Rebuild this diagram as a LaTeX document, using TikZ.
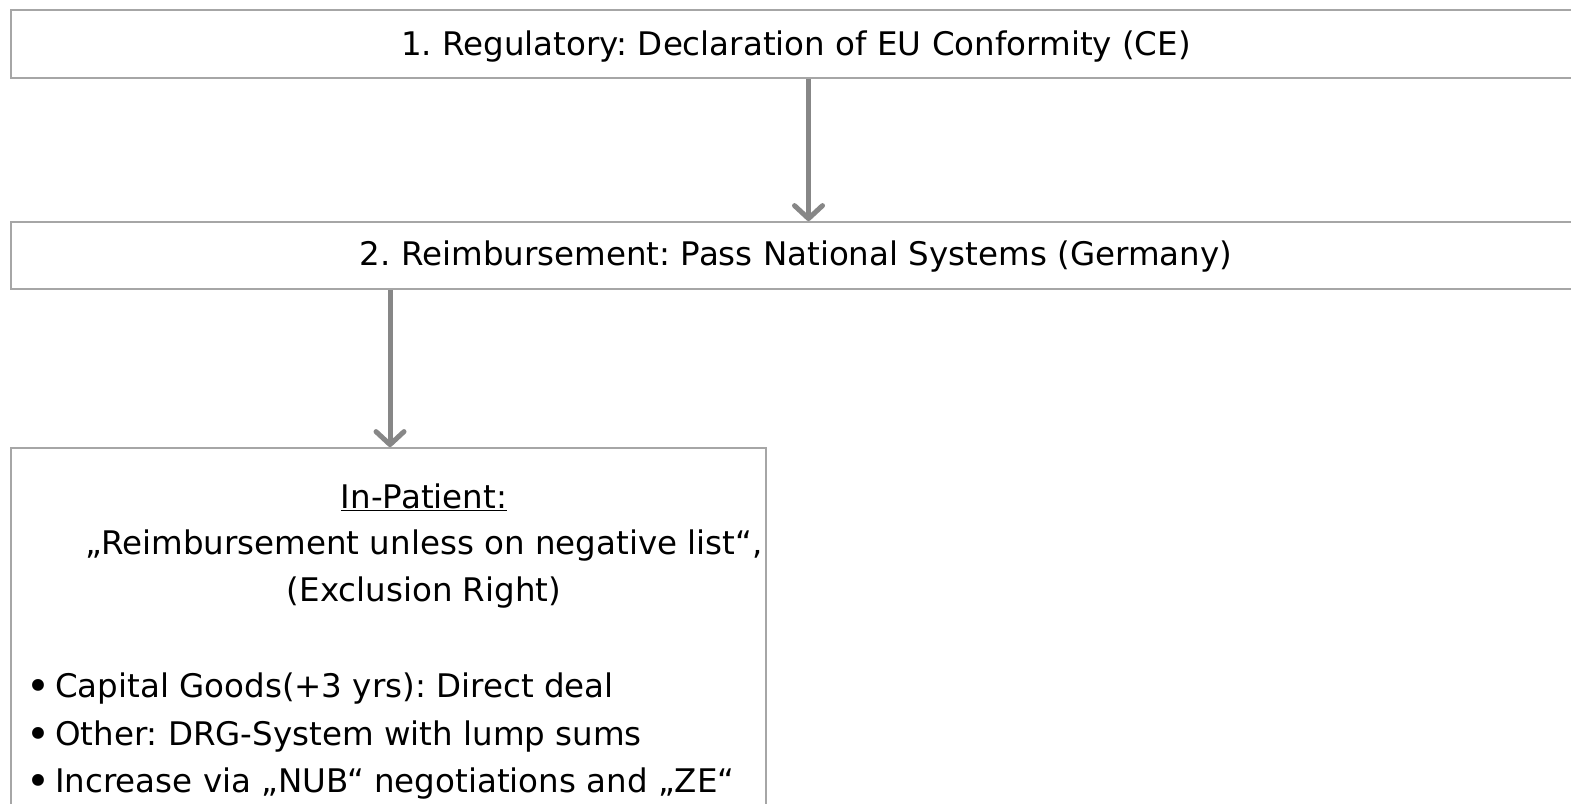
\documentclass[tikz,border=0pt]{standalone}
\usepackage{fontspec}
\setmainfont{DejaVu Sans}
\usetikzlibrary{arrows.meta}
\definecolor{boxgray}{HTML}{A6A6A6}
\definecolor{arrgray}{HTML}{878787}
\tikzset{
  box/.style={draw=boxgray, line width=1.8pt, rectangle, inner sep=0pt},
  txt/.style={inner sep=0pt, font=\fontsize{32.5}{48}\selectfont\frenchspacing},
  arr/.style={draw=arrgray, line width=5pt, -{Straight Barb[length=13pt,width=28pt,round]}}
}
\newcommand{\mybul}{\makebox[31pt][l]{\kern2pt\raisebox{-2.8pt}{\scalebox{1.25}{\textbullet}}}}
\begin{document}
\begin{tikzpicture}[x=1pt,y=-1pt]
\useasboundingbox (0,0) rectangle (1571,803);
\clip (0,0) rectangle (1571,803);
\node[box, minimum width=1579pt, minimum height=68pt] (b1) at (800.5,44) {};
\node[txt] (t1) at (796,47) {1. Regulatory: Declaration of EU Conformity (CE)};
\node[box, minimum width=1579pt, minimum height=67pt] (b2) at (800.5,255.5) {};
\node[txt] (t2) at (796,257) {2. Reimbursement: Pass National Systems (Germany)};
\node[box, minimum width=755pt, minimum height=400pt] (b3) at (388.5,648) {};
\coordinate (a1) at (808.5,0);
\coordinate (a2) at (390,0);
\draw[arr] (b1.south -| a1) -- (b2.north -| a1);
\draw[arr] (b2.south -| a2) -- (b3.north -| a2);
\node[txt] (h1) at (424,497) {\underline{In-Patient:}};
\node[txt] (h2) at (424,546) {„Reimbursement unless on negative list“,};
\node[txt] (h3) at (424,593) {(Exclusion Right)};
\node[txt, anchor=west] (l1) at (24,689) {\mybul Capital Goods(+3 yrs): Direct deal};
\node[txt, anchor=west] (l2) at (24,737) {\mybul Other: DRG-System with lump sums};
\node[txt, anchor=west] (l3) at (24,784) {\mybul Increase via „NUB“ negotiations and „ZE“};
\end{tikzpicture}
\end{document}
